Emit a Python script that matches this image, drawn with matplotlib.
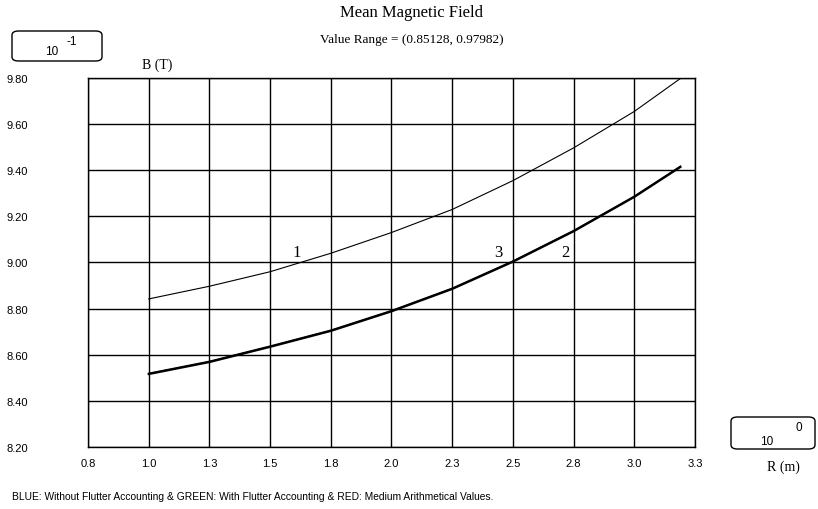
import matplotlib
matplotlib.use("Agg")
import matplotlib.pyplot as plt
from matplotlib.patches import FancyBboxPatch
import numpy as np

# values (B in units of 10^-1 T, R in m)
r_vals = [1.05, 1.30, 1.55, 1.80, 2.05, 2.30, 2.55, 2.80, 3.05, 3.24]
b_without = [8.842, 8.897, 8.960, 9.040, 9.130, 9.230, 9.355, 9.497, 9.655, 9.798]
b_with = [8.516, 8.568, 8.634, 8.703, 8.788, 8.885, 9.003, 9.135, 9.284, 9.414]
b_medium = [8.519, 8.571, 8.637, 8.706, 8.791, 8.888, 9.006, 9.138, 9.287, 9.417]

x_ticks = [0.8, 1.05, 1.3, 1.55, 1.8, 2.05, 2.3, 2.55, 2.8, 3.05, 3.3]
x_labels = ["0.8", "1.0", "1.3", "1.5", "1.8", "2.0", "2.3", "2.5", "2.8", "3.0", "3.3"]
y_ticks = [8.2, 8.4, 8.6, 8.8, 9.0, 9.2, 9.4, 9.6, 9.8]
y_labels = ["8.20", "8.40", "8.60", "8.80", "9.00", "9.20", "9.40", "9.60", "9.80"]

title = "Mean Magnetic Field"
subtitle = "Value Range = (0.85128, 0.97982)"
footer = ("BLUE: Without Flutter Accounting & GREEN: With Flutter Accounting "
          "& RED: Medium Arithmetical Values.")

serif = ["Liberation Serif", "DejaVu Serif"]
narrow = ["Liberation Sans Narrow", "Liberation Sans", "DejaVu Sans"]

W, H = 818, 510
fig = plt.figure(figsize=(W / 100, H / 100), dpi=100)
ax = fig.add_axes([88 / W, 1 - 448 / H, (695 - 88) / W, (448 - 79) / H])

ax.plot(r_vals, b_without, color="black", lw=0.8)
ax.plot(r_vals, b_with, color="black", lw=1.5)
ax.plot(r_vals, b_medium, color="black", lw=1.2)

ax.set_xlim(0.8, 3.3)
ax.set_ylim(8.2, 9.8)
ax.set_xticks(x_ticks)
ax.set_xticklabels(x_labels, family=narrow, fontsize=8)
ax.set_yticks(y_ticks)
ax.set_yticklabels(y_labels, family=narrow, fontsize=8)
ax.tick_params(axis="y", length=0, pad=43)
ax.tick_params(axis="x", length=0, pad=8)
ax.grid(True, color="black", lw=1.0)
ax.set_axisbelow(True)
for s in ax.spines.values():
    s.set_linewidth(1.0)
    s.set_color("black")

# curve numbers
ax.text(1.66, 9.01, "1", family=serif, fontsize=12, ha="center", va="bottom")
ax.text(2.49, 9.01, "3", family=serif, fontsize=12, ha="center", va="bottom")
ax.text(2.765, 9.01, "2", family=serif, fontsize=12, ha="center", va="bottom")

fig.text(412 / W, 1 - 13 / H, title, family=serif, fontsize=12, ha="center", va="center")
fig.text(412 / W, 1 - 40 / H, subtitle, family=serif, fontsize=9.5, ha="center", va="center")
fig.text(157 / W, 1 - 65 / H, "B (T)", family=serif, fontsize=10, ha="center", va="center")
fig.text(783 / W, 1 - 467 / H, "R (m)", family=serif, fontsize=10, ha="center", va="center")
fig.text(12 / W, 1 - 497 / H, footer, family=narrow, fontsize=7.4, ha="left", va="center")

# multiplier boxes
for (x0, y0, x1, y1), base_xy, exp_xy, exp in [
        ((12, 32, 102, 62), (52, 52), (72, 42), "-1"),
        ((731, 418, 815, 450), (767, 442), (799, 428), "0")]:
    box = FancyBboxPatch((x0 / W, 1 - y1 / H), (x1 - x0) / W, (y1 - y0) / H,
                         boxstyle="round,pad=0,rounding_size=0.008",
                         transform=fig.transFigure, fill=False,
                         edgecolor="black", lw=1.0)
    fig.patches.append(box)
    fig.text(base_xy[0] / W, 1 - base_xy[1] / H, "10", family=narrow,
             fontsize=8.5, ha="center", va="center")
    fig.text(exp_xy[0] / W, 1 - exp_xy[1] / H, exp, family=narrow,
             fontsize=8.5, ha="center", va="center")

fig.savefig("out.png", dpi=100)
